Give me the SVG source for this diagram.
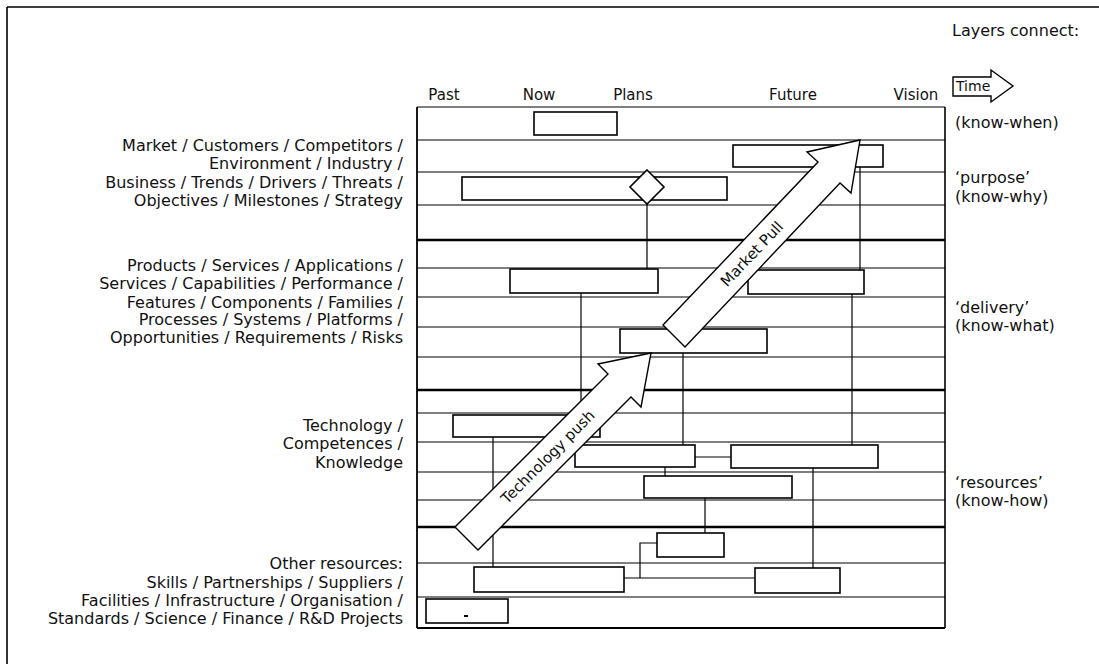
<svg xmlns="http://www.w3.org/2000/svg" width="1099" height="664" viewBox="0 0 1099 664">
<style>
.frame{stroke:#000;stroke-width:1.6;fill:none}
.grid{stroke:#000;stroke-width:1.2;fill:none}
.thick{stroke:#000;stroke-width:2.6;fill:none}
.box{fill:#fff;stroke:#000;stroke-width:1.6}
.conn{stroke:#000;stroke-width:1.2;fill:none}
.arrow{fill:#fff;stroke:#000;stroke-width:1.4;stroke-linejoin:miter}
.t{font-family:"DejaVu Sans","Liberation Sans",sans-serif;font-size:16px;fill:#111}
.l{text-anchor:end}
.h{font-size:15px;text-anchor:middle}
.a{font-size:15px;text-anchor:middle}
</style>
<rect width="1099" height="664" fill="#fff"/>
<g id="frame">
<line class="frame" x1="7" y1="7" x2="1099" y2="7"/>
<line class="frame" x1="7" y1="7" x2="7" y2="664"/>
</g>
<g id="grid">
<line class="grid" x1="417" y1="107" x2="945" y2="107"/>
<line class="grid" x1="417" y1="140" x2="945" y2="140"/>
<line class="grid" x1="417" y1="172" x2="945" y2="172"/>
<line class="grid" x1="417" y1="205" x2="945" y2="205"/>
<line class="thick" x1="417" y1="240" x2="945" y2="240"/>
<line class="grid" x1="417" y1="268" x2="945" y2="268"/>
<line class="grid" x1="417" y1="297" x2="945" y2="297"/>
<line class="grid" x1="417" y1="327" x2="945" y2="327"/>
<line class="grid" x1="417" y1="357" x2="945" y2="357"/>
<line class="thick" x1="417" y1="390" x2="945" y2="390"/>
<line class="grid" x1="417" y1="413" x2="945" y2="413"/>
<line class="grid" x1="417" y1="442" x2="945" y2="442"/>
<line class="grid" x1="417" y1="472" x2="945" y2="472"/>
<line class="grid" x1="417" y1="500" x2="945" y2="500"/>
<line class="thick" x1="417" y1="527" x2="945" y2="527"/>
<line class="grid" x1="417" y1="563" x2="945" y2="563"/>
<line class="grid" x1="417" y1="597" x2="945" y2="597"/>
<line class="thick" x1="417" y1="628" x2="945" y2="628" style="stroke-width:1.8"/>
<line class="grid" x1="417" y1="107" x2="417" y2="628" style="stroke-width:1.8"/>
<line class="grid" x1="945" y1="107" x2="945" y2="628" style="stroke-width:1.6"/>
</g>
<g id="labels-time">
<text class="t h" x="444" y="100">Past</text>
<text class="t h" x="539" y="100">Now</text>
<text class="t h" x="633" y="100">Plans</text>
<text class="t h" x="793" y="100">Future</text>
<text class="t h" x="916" y="100">Vision</text>
</g>
<g id="labels-left">
<text class="t l" x="403" y="151">Market / Customers / Competitors /</text>
<text class="t l" x="403" y="169">Environment / Industry /</text>
<text class="t l" x="403" y="188">Business / Trends / Drivers / Threats /</text>
<text class="t l" x="403" y="206">Objectives / Milestones / Strategy</text>
<text class="t l" x="403" y="271">Products / Services / Applications /</text>
<text class="t l" x="403" y="289">Services / Capabilities / Performance /</text>
<text class="t l" x="403" y="308">Features / Components / Families /</text>
<text class="t l" x="403" y="325">Processes / Systems / Platforms /</text>
<text class="t l" x="403" y="343">Opportunities / Requirements / Risks</text>
<text class="t l" x="403" y="431">Technology /</text>
<text class="t l" x="403" y="449">Competences /</text>
<text class="t l" x="403" y="468">Knowledge</text>
<text class="t l" x="403" y="569">Other resources:</text>
<text class="t l" x="403" y="588">Skills / Partnerships / Suppliers /</text>
<text class="t l" x="403" y="606">Facilities / Infrastructure / Organisation /</text>
<text class="t l" x="403" y="624">Standards / Science / Finance / R&amp;D Projects</text>
</g>
<g id="labels-right">
<text class="t" x="952" y="36">Layers connect:</text>
<text class="t" x="955" y="128">(know-when)</text>
<text class="t" x="955" y="183">‘purpose’</text>
<text class="t" x="955" y="202">(know-why)</text>
<text class="t" x="955" y="313">‘delivery’</text>
<text class="t" x="955" y="331">(know-what)</text>
<text class="t" x="955" y="488">‘resources’</text>
<text class="t" x="955" y="506">(know-how)</text>
</g>
<g id="time-arrow">
<path class="arrow" d="M953,77 L991,77 L991,70 L1013,86 L991,102 L991,96 L953,96 Z"/>
<text class="t" x="956" y="91" style="font-size:14px">Time</text>
</g>
<g id="connectors">
<line class="conn" x1="647" y1="204" x2="647" y2="269"/>
<line class="conn" x1="860" y1="167" x2="860" y2="270"/>
<line class="conn" x1="581" y1="293" x2="581" y2="445"/>
<line class="conn" x1="683" y1="353" x2="683" y2="445"/>
<line class="conn" x1="852" y1="294" x2="852" y2="445"/>
<line class="conn" x1="695" y1="457" x2="731" y2="457"/>
<line class="conn" x1="665" y1="467" x2="665" y2="476"/>
<line class="conn" x1="705" y1="498" x2="705" y2="533"/>
<line class="conn" x1="493" y1="437" x2="493" y2="567"/>
<line class="conn" x1="813" y1="468" x2="813" y2="568"/>
<polyline class="conn" points="657,543 640,543 640,578"/>
<line class="conn" x1="624" y1="578" x2="755" y2="578"/>
</g>
<g id="node-now"><rect class="box" x="534" y="112" width="83" height="23"/></g>
<g id="node-market-future"><rect class="box" x="733" y="145" width="150" height="22"/></g>
<g id="node-business"><rect class="box" x="462" y="177" width="265" height="23"/></g>
<g id="node-milestone"><polygon class="box" points="647,170 664,187 647,204 630,187"/></g>
<g id="node-product-a"><rect class="box" x="510" y="269" width="148" height="24"/></g>
<g id="node-product-b"><rect class="box" x="748" y="270" width="116" height="24"/></g>
<g id="node-product-c"><rect class="box" x="620" y="329" width="147" height="24"/></g>
<g id="node-tech-a"><rect class="box" x="453" y="415" width="147" height="22"/></g>
<g id="node-tech-b"><rect class="box" x="575" y="445" width="120" height="22"/></g>
<g id="node-tech-c"><rect class="box" x="731" y="445" width="147" height="23"/></g>
<g id="node-tech-d"><rect class="box" x="644" y="476" width="148" height="22"/></g>
<g id="node-res-a"><rect class="box" x="657" y="533" width="67" height="24"/></g>
<g id="node-res-b"><rect class="box" x="474" y="567" width="150" height="25"/></g>
<g id="node-res-c"><rect class="box" x="755" y="568" width="85" height="25"/></g>
<g id="node-res-d"><rect class="box" x="426" y="599" width="82" height="24"/><rect x="464" y="615" width="4" height="2" fill="#000"/></g>
<g id="arrow-technology-push">
<polygon class="arrow" points="455,527 608,374 598,364 651,353 641,407 631,397 478,550"/>
<text class="t a" transform="translate(548,457) rotate(-45)" y="5">Technology push</text>
</g>
<g id="arrow-market-pull">
<polygon class="arrow" points="663,325 818,162 807,152 860,140 851,193 840,183 685,347"/>
<text class="t a" transform="translate(752,254) rotate(-46.5)" y="5">Market Pull</text>
</g>
</svg>
